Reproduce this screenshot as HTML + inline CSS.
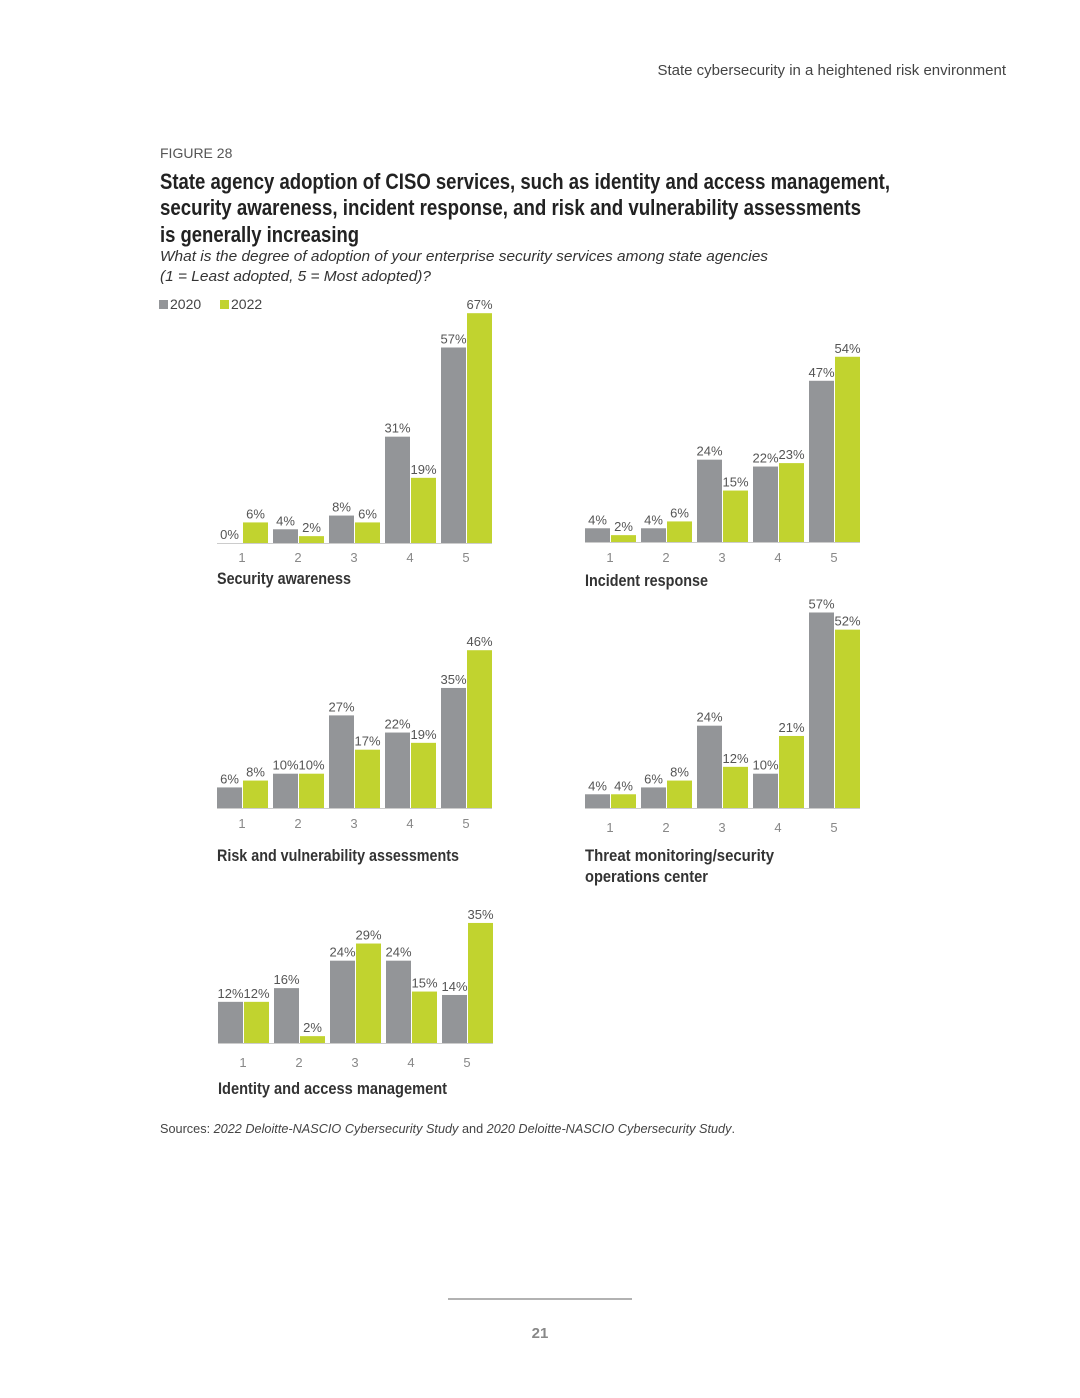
<!DOCTYPE html>
<html><head><meta charset="utf-8"><style>
body{margin:0;background:#fff;}
svg{display:block;font-family:"Liberation Sans",sans-serif;}
</style></head><body>
<svg id="page" width="1080" height="1398" viewBox="0 0 1080 1398" xmlns="http://www.w3.org/2000/svg">
<text x="1006" y="75" text-anchor="end" font-size="15" fill="#444">State cybersecurity in a heightened risk environment</text>
<text x="160" y="158" font-size="14" fill="#555">FIGURE 28</text>
<g font-weight="bold" font-size="22" fill="#222">
<text x="160" y="189" textLength="730" lengthAdjust="spacingAndGlyphs">State agency adoption of CISO services, such as identity and access management,</text>
<text x="160" y="215" textLength="701" lengthAdjust="spacingAndGlyphs">security awareness, incident response, and risk and vulnerability assessments</text>
<text x="160" y="242" textLength="199" lengthAdjust="spacingAndGlyphs">is generally increasing</text>
</g>
<g font-style="italic" font-size="15" fill="#333">
<text x="160" y="261" textLength="608" lengthAdjust="spacingAndGlyphs">What is the degree of adoption of your enterprise security services among state agencies</text>
<text x="160" y="281" textLength="271" lengthAdjust="spacingAndGlyphs">(1 = Least adopted, 5 = Most adopted)?</text>
</g>
<g font-size="14" fill="#444">
<rect x="159" y="300" width="9" height="9" fill="#939598"/>
<text x="170" y="309">2020</text>
<rect x="220" y="300" width="9" height="9" fill="#c1d32f"/>
<text x="231" y="309">2022</text>
</g>
<g id="charts"></g>
<text x="160" y="1133" font-size="13" fill="#444" textLength="575" lengthAdjust="spacingAndGlyphs">Sources: <tspan font-style="italic">2022 Deloitte-NASCIO Cybersecurity Study</tspan> and <tspan font-style="italic">2020 Deloitte-NASCIO Cybersecurity Study</tspan>.</text>
<line x1="448" y1="1299" x2="632" y2="1299" stroke="#666" stroke-width="1"/>
<text x="540" y="1338" text-anchor="middle" font-size="15" font-weight="bold" fill="#888">21</text>
</svg>
<script>
const categories = ["1","2","3","4","5"];
const titles = [["Security awareness"],["Incident response"],["Risk and vulnerability assessments"],["Threat monitoring/security","operations center"],["Identity and access management"]];
const values2020 = [[0,4,8,31,57],[4,4,24,22,47],[6,10,27,22,35],[4,6,24,10,57],[12,16,24,24,14]];
const values2022 = [[6,2,6,19,67],[2,6,15,23,54],[8,10,17,19,46],[4,8,12,21,52],[12,2,29,15,35]];
const titleWidths = [[134],[123],[242],[189,123],[229]];
const layout = [{x:217,b:543,t:557,tt:584},{x:585,b:542,t:557,tt:586},{x:217,b:808,t:823,tt:861},{x:585,b:808,t:827,tt:861},{x:218,b:1043,t:1062,tt:1094}];
const NS="http://www.w3.org/2000/svg";
const root=document.getElementById('charts');
function mk(tag,attrs,parent){const e=document.createElementNS(NS,tag);for(const k in attrs)e.setAttribute(k,attrs[k]);parent.appendChild(e);return e;}
const pxPer=3.43, pitch=56, bw=25;
layout.forEach((L,ci)=>{
  const g=mk('g',{},root);
  
  
  const y=v=>L.b-v*pxPer;
  categories.forEach((c,i)=>{
    const gx=L.x+i*pitch;
    [[values2020,'#939598',0],[values2022,'#c1d32f',1]].forEach(([arr,col,s])=>{
      const v=arr[ci][i];
      const r=mk('rect',{x:gx+s*(bw+1),y:y(v),width:bw,height:Math.max(v*pxPer,0.01),fill:col},g);
      
      
      const t=mk('text',{x:gx+s*(bw+1)+bw/2,y:y(v)-4,'text-anchor':'middle','font-size':13,fill:'#555'},g);
      
      
      t.textContent=v+'%';
    });
    const tk=mk('text',{x:gx+bw,y:L.t+5,'text-anchor':'middle','font-size':13,fill:'#888'},g);
    
    
    tk.textContent=c;
  });
  const ax=mk('line',{x1:L.x,x2:L.x+4*pitch+2*bw+1,y1:L.b+0.5,y2:L.b+0.5,stroke:'#ccc','stroke-width':1},g);
  
  
  titles[ci].forEach((line,li)=>{
    const tt=mk('text',{x:L.x,y:L.tt+li*21,'font-size':17,'font-weight':'bold',fill:'#333',textLength:titleWidths[ci][li],lengthAdjust:'spacingAndGlyphs'},g);
    
    
    tt.textContent=line;
  });
});
</script>
</body></html>
